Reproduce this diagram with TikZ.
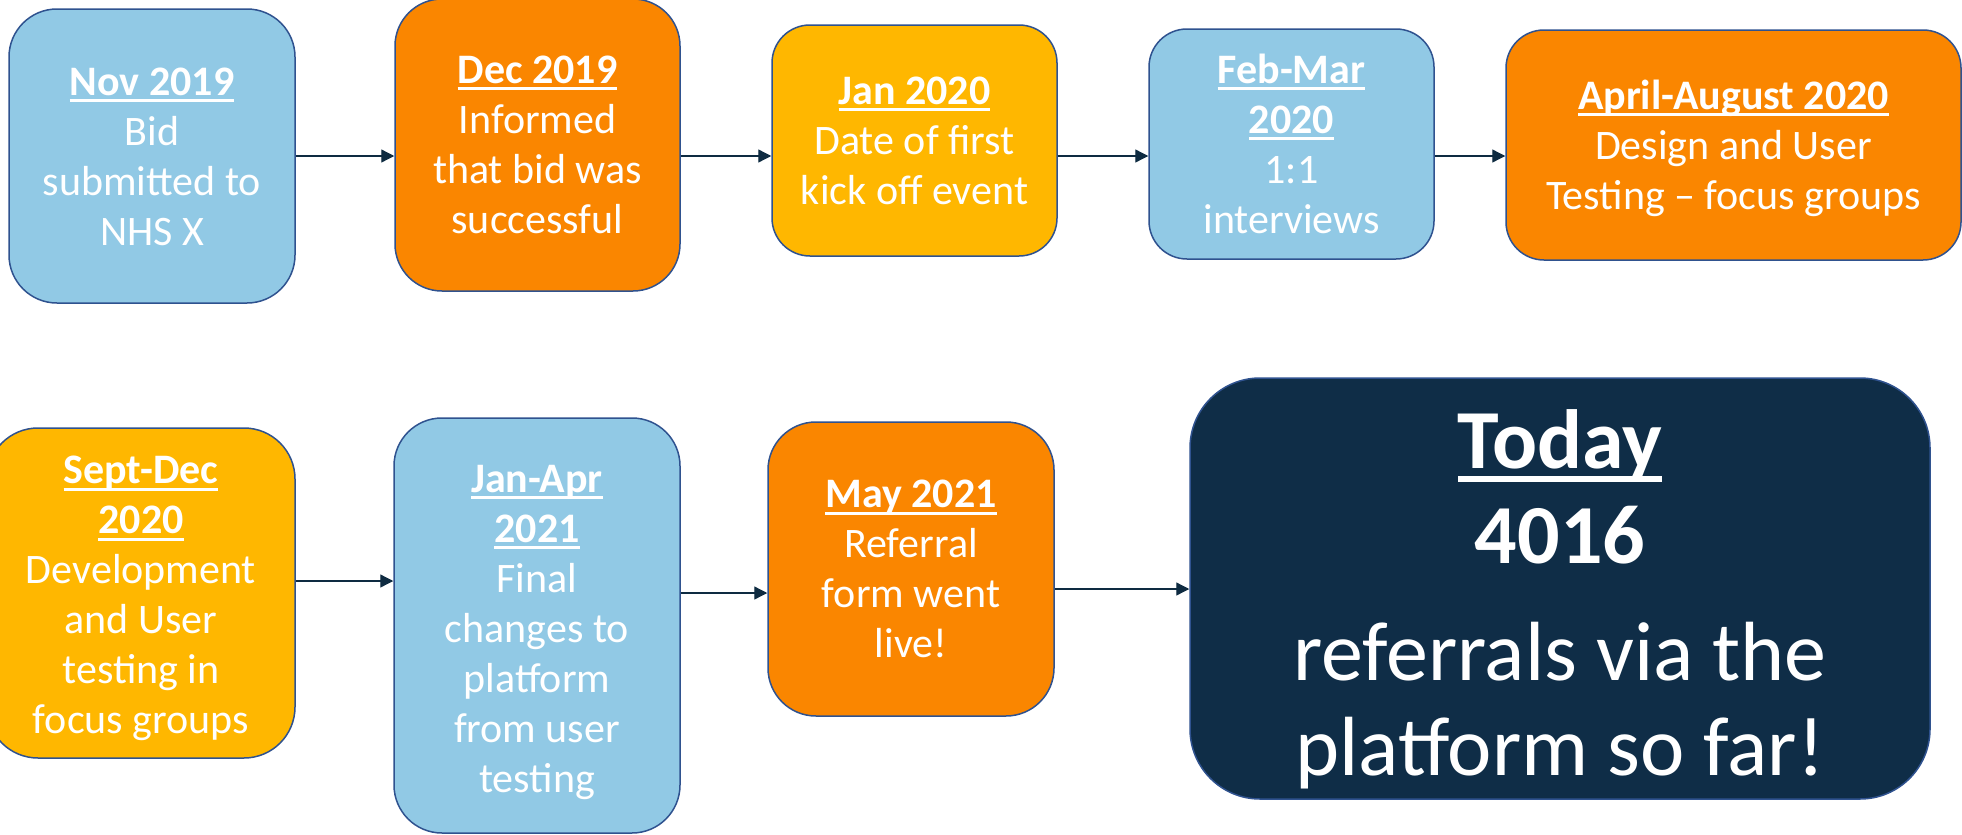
\documentclass[tikz,border=0pt]{standalone}
\usepackage{fontspec}
\setmainfont{Carlito}
\usetikzlibrary{arrows.meta}
\definecolor{lblue}{HTML}{91C9E5}
\definecolor{orng}{HTML}{FA8600}
\definecolor{gold}{HTML}{FFB700}
\definecolor{navy}{HTML}{0F2D47}
\definecolor{bord}{HTML}{2F528F}
\definecolor{arrc}{HTML}{0E2B41}
\newsavebox\ulsave
\newcommand\ulx[1]{\sbox\ulsave{#1}\rlap{\rule[-0.16em]{\wd\ulsave}{0.07em}}\usebox\ulsave}
\begin{document}
\begin{tikzpicture}[x=1pt,y=-1pt,
  card/.style={draw=bord, line width=1.5pt, inner sep=0pt, rectangle},
  lbl/.style={text=white, align=center, inner sep=0pt, font=\fontsize{42}{50}\selectfont},
  big/.style={text=white, align=center, inner sep=0pt, font=\fontsize{84}{95}\selectfont},
  arr/.style={draw=arrc, line width=1.3pt, -{Triangle[length=13pt,width=13pt]}}
]
\useasboundingbox (0,0) rectangle (1962,835);
\fill[white] (0,0) rectangle (1962,835);
% boxes
\node[card, fill=lblue, minimum width=286pt, minimum height=294pt, rounded corners=48pt] (b1) at (152,156) {};
\node[card, fill=orng,  minimum width=285pt, minimum height=292pt, rounded corners=47pt] (b2) at (537.5,145) {};
\node[card, fill=gold,  minimum width=285pt, minimum height=231pt, rounded corners=38pt] (b3) at (914.5,140.5) {};
\node[card, fill=lblue, minimum width=285pt, minimum height=230pt, rounded corners=38pt] (b4) at (1291.5,144) {};
\node[card, fill=orng,  minimum width=455pt, minimum height=230pt, rounded corners=38pt] (b5) at (1733.5,145) {};
\node[card, fill=gold,  minimum width=308pt, minimum height=330pt, rounded corners=51pt] (b6) at (141,593) {};
\node[card, fill=lblue, minimum width=286pt, minimum height=415pt, rounded corners=48pt] (b7) at (537,625.5) {};
\node[card, fill=orng,  minimum width=286pt, minimum height=294pt, rounded corners=48pt] (b8) at (911,569) {};
\node[card, fill=navy,  minimum width=740pt, minimum height=421pt, rounded corners=70pt] (b9) at (1560,588.5) {};
% texts
\node[lbl] (t1) at (152,156.75) {\textbf{\ulx{Nov 2019}}\\Bid\\submitted to\\NHS X};
\node[lbl] (t2) at (537.5,144.75) {\textbf{\ulx{Dec 2019}}\\Informed\\that bid was\\successful};
\node[lbl] (t3) at (914.5,140.75) {\textbf{\ulx{Jan 2020}}\\Date of first\\kick off event};
\node[lbl] (t4) at (1291.5,143.5) {\textbf{\ulx{Feb-Mar}}\\\textbf{\ulx{2020}}\\1:1\\interviews};
\node[lbl] (t5) at (1733.5,148.4) {\textbf{\ulx{April-August 2020}}\\Design and User\\Testing -- focus groups};
\node[lbl] (t6) at (141,598.7) {\textbf{\ulx{Sept-Dec}}\\\textbf{\ulx{2020}}\\Development\\and User\\testing in\\focus groups};
\node[lbl] (t7) at (537,632.2) {\textbf{\ulx{Jan-Apr}}\\\textbf{\ulx{2021}}\\Final\\changes to\\platform\\from user\\testing};
\node[lbl] (t8) at (911,569.25) {\textbf{\ulx{May 2021}}\\Referral\\form went\\live!};
\node[big] (t9) at (1560,598.85) {\textbf{\ulx{Today}}\\\textbf{4016}\\[22pt]referrals via the\\platform so far!};
% connectors
\coordinate (r1) at (0,156);
\coordinate (r5) at (0,581);
\coordinate (r6) at (0,593);
\coordinate (r7) at (0,589);
\draw[arr] (b1.east |- r1) -- (b2.west |- r1);
\draw[arr] (b2.east |- r1) -- (b3.west |- r1);
\draw[arr] (b3.east |- r1) -- (b4.west |- r1);
\draw[arr] (b4.east |- r1) -- (b5.west |- r1);
\draw[arr] (b6.east |- r5) -- (b7.west |- r5);
\draw[arr] (b7.east |- r6) -- (b8.west |- r6);
\draw[arr] (b8.east |- r7) -- (b9.west |- r7);
\end{tikzpicture}
\end{document}
